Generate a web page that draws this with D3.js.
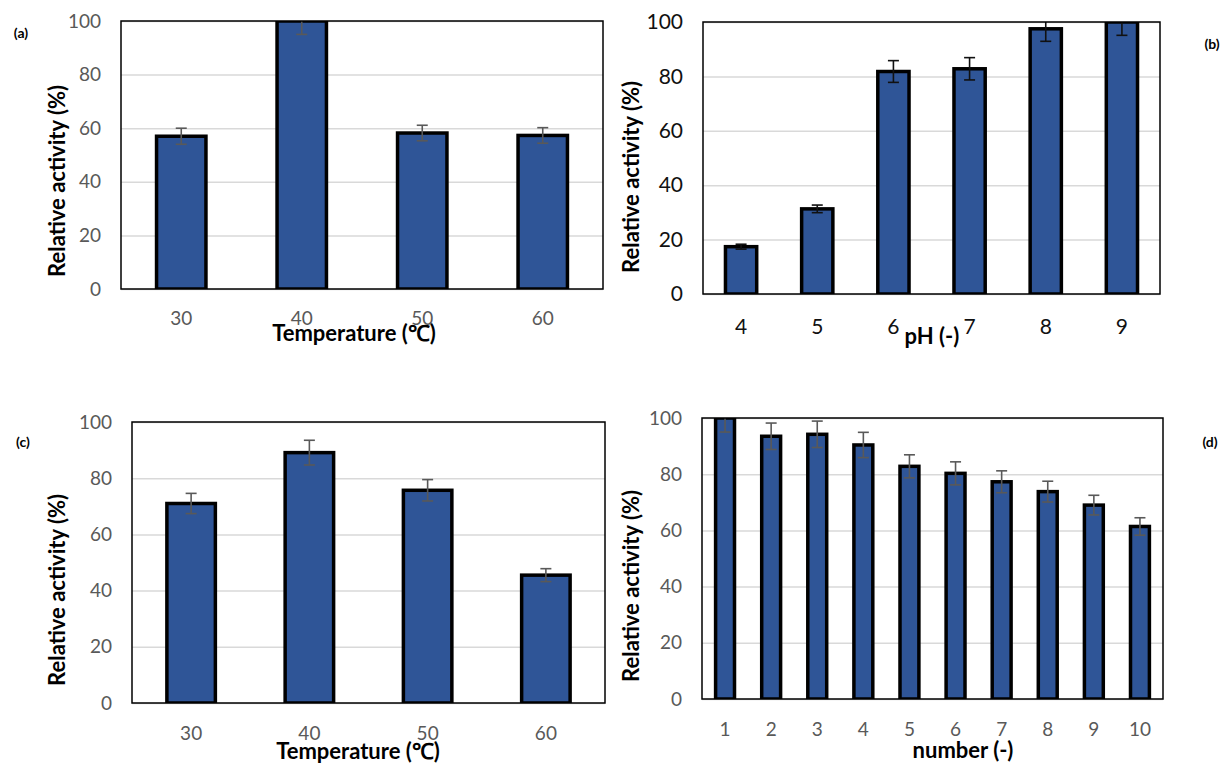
<!DOCTYPE html>
<html>
<head>
<meta charset="utf-8">
<script src="https://cdn.jsdelivr.net/npm/d3@7"></script>
<style>
  body { margin: 0; background: #fff; }
  svg { font-family: Lato, "Open Sans", sans-serif; }
</style>
</head>
<body>
<script>
// values
var tempCats = ["30", "40", "50", "60"];
var tempActivity = [57.0, 100, 58.2, 57.3];
var tempErr = [3.0, 5.0, 2.9, 2.9];

var phCats = ["4", "5", "6", "7", "8", "9"];
var phActivity = [17.4, 31.3, 81.8, 82.8, 97.5, 100];
var phErr = [0.9, 1.4, 4.0, 4.1, 4.6, 4.9];

var stabCats = ["30", "40", "50", "60"];
var stabActivity = [71.0, 89.1, 75.7, 45.5];
var stabErr = [3.6, 4.4, 3.8, 2.3];

var cycleCats = ["1", "2", "3", "4", "5", "6", "7", "8", "9", "10"];
var cycleActivity = [100, 93.5, 94.2, 90.4, 82.8, 80.3, 77.3, 73.8, 69.0, 61.4];
var cycleErr = [5.0, 4.7, 4.7, 4.5, 4.1, 4.1, 3.9, 3.7, 3.5, 3.1];

var yTicks = [0, 20, 40, 60, 80, 100];

var panels = [
  {id: "a", cats: tempCats, vals: tempActivity, errs: tempErr, xTitle: "Temperature (\u2103)",
   left: 121, right: 603, top: 21, bottom: 289, tickCol: "#595959", errCol: "#595959", tickSize: 19,
   xTickY: 318, xTitleX: 354, xTitleY: 333, yTitleX: 57, yTitleY: 181, labX: 21, labY: 33},
  {id: "b", cats: phCats, vals: phActivity, errs: phErr, xTitle: "pH (-)",
   left: 703, right: 1160, top: 22, bottom: 294, tickCol: "#111", errCol: "#111", tickSize: 21,
   xTickY: 327, xTitleX: 932, xTitleY: 336, yTitleX: 631, yTitleY: 177, labX: 1212, labY: 44},
  {id: "c", cats: stabCats, vals: stabActivity, errs: stabErr, xTitle: "Temperature (\u2103)",
   left: 132, right: 605, top: 422, bottom: 703, tickCol: "#595959", errCol: "#595959", tickSize: 19,
   xTickY: 733, xTitleX: 358, xTitleY: 751, yTitleX: 57, yTitleY: 590, labX: 23, labY: 442},
  {id: "d", cats: cycleCats, vals: cycleActivity, errs: cycleErr, xTitle: "number (-)",
   left: 702, right: 1163, top: 418, bottom: 699, tickCol: "#595959", errCol: "#595959", tickSize: 19,
   xTickY: 729, xTitleX: 963, xTitleY: 750, yTitleX: 631, yTitleY: 586, labX: 1210, labY: 442}
];

var svg = d3.select("body").append("svg")
  .attr("width", 1223)
  .attr("height", 763);

panels.forEach(function(p) {
  var data = p.cats.map(function(c, i) { return {cat: c, v: p.vals[i], e: p.errs[i]}; });

  var x = d3.scaleBand()
    .domain(p.cats)
    .range([p.left, p.right])
    .paddingInner(0.59)
    .paddingOuter(0.295);

  var y = d3.scaleLinear()
    .domain([0, 100])
    .range([p.bottom, p.top]);

  var g = svg.append("g");

  // gridlines
  g.append("g")
    .attr("transform", "translate(" + p.left + ",0)")
    .call(d3.axisLeft(y).tickValues(yTicks).tickSize(-(p.right - p.left)).tickFormat(""))
    .call(function(s) {
      s.select(".domain").remove();
      s.selectAll("line").attr("stroke", "#d9d9d9").attr("stroke-width", 1.5);
    });

  // y tick labels
  g.append("g")
    .attr("transform", "translate(" + (p.left - 20) + ",0)")
    .call(d3.axisLeft(y).tickValues(yTicks).tickSize(0).tickPadding(0))
    .call(function(s) {
      s.select(".domain").remove();
      s.selectAll("text")
        .attr("fill", p.tickCol)
        .style("font-size", p.tickSize + "px")
        .style("font-family", "Lato, sans-serif");
    });

  // x tick labels
  g.append("g")
    .attr("transform", "translate(0," + p.xTickY + ")")
    .call(d3.axisBottom(x).tickSize(0).tickPadding(0))
    .call(function(s) {
      s.select(".domain").remove();
      s.selectAll("text")
        .attr("dy", "0.35em")
        .attr("fill", p.tickCol)
        .style("font-size", p.tickSize + "px")
        .style("font-family", "Lato, sans-serif");
    });

  var clipId = "clip-" + p.id;
  svg.append("clipPath").attr("id", clipId)
    .append("rect")
    .attr("x", p.left)
    .attr("y", p.top)
    .attr("width", p.right - p.left)
    .attr("height", p.bottom - p.top);

  var plot = g.append("g").attr("clip-path", "url(#" + clipId + ")");

  plot.selectAll("rect.bar")
    .data(data)
    .enter().append("rect")
    .attr("class", "bar")
    .attr("x", function(d) { return x(d.cat); })
    .attr("y", function(d) { return y(d.v); })
    .attr("width", x.bandwidth())
    .attr("height", function(d) { return y(0) - y(d.v); })
    .attr("fill", "#2f5597")
    .attr("stroke", "#000")
    .attr("stroke-width", 3.5);

  // error bars
  var eb = plot.selectAll("g.err")
    .data(data)
    .enter().append("g")
    .attr("class", "err")
    .attr("stroke", p.errCol)
    .attr("stroke-width", 1.6);

  eb.append("line")
    .attr("x1", function(d) { return x(d.cat) + x.bandwidth() / 2; })
    .attr("x2", function(d) { return x(d.cat) + x.bandwidth() / 2; })
    .attr("y1", function(d) { return y(d.v + d.e); })
    .attr("y2", function(d) { return y(d.v - d.e); });

  [1, -1].forEach(function(sgn) {
    eb.append("line")
      .attr("x1", function(d) { return x(d.cat) + x.bandwidth() / 2 - 5.5; })
      .attr("x2", function(d) { return x(d.cat) + x.bandwidth() / 2 + 5.5; })
      .attr("y1", function(d) { return y(d.v + sgn * d.e); })
      .attr("y2", function(d) { return y(d.v + sgn * d.e); });
  });

  // frame
  g.append("rect")
    .attr("x", p.left)
    .attr("y", p.top)
    .attr("width", p.right - p.left)
    .attr("height", p.bottom - p.top)
    .attr("fill", "none")
    .attr("stroke", "#000")
    .attr("stroke-width", 1.5);

  g.append("text")
    .attr("x", p.xTitleX)
    .attr("y", p.xTitleY)
    .attr("dy", "0.35em")
    .attr("text-anchor", "middle")
    .attr("font-weight", "bold")
    .attr("font-size", 22)
    .text(p.xTitle);

  g.append("text")
    .attr("transform", "translate(" + p.yTitleX + "," + p.yTitleY + ") rotate(-90)")
    .attr("dy", "0.35em")
    .attr("text-anchor", "middle")
    .attr("font-weight", "bold")
    .attr("font-size", 22)
    .text("Relative activity (%)");

  g.append("text")
    .attr("x", p.labX)
    .attr("y", p.labY)
    .attr("dy", "0.35em")
    .attr("text-anchor", "middle")
    .attr("font-weight", "bold")
    .attr("font-size", 14)
    .text("(" + p.id + ")");
});
</script>
</body>
</html>
